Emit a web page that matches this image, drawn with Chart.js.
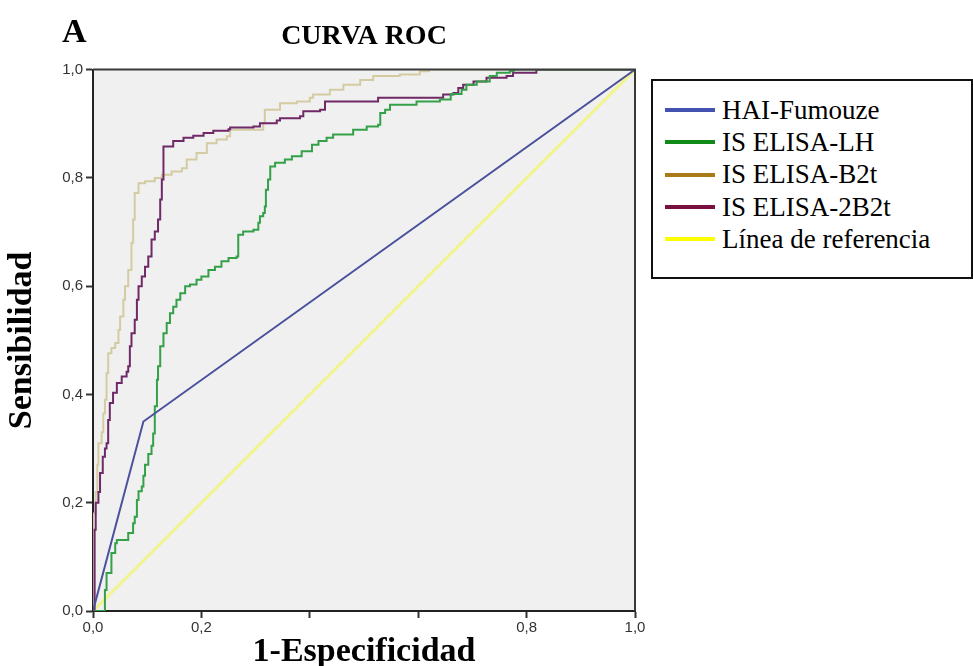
<!DOCTYPE html>
<html lang="es">
<head>
<meta charset="utf-8">
<title>Curva ROC</title>
<script src="https://cdn.jsdelivr.net/npm/chart.js@4.4.1/dist/chart.umd.min.js"></script>
<style>
  html, body { margin: 0; padding: 0; background: #fff; }
  #wrap { position: relative; width: 973px; height: 666px; overflow: hidden; }
  #roc-chart { position: absolute; left: 0; top: 0; }
  #panel-letter {
    position: absolute; left: 62px; top: 14px;
    font: bold 34px/34px "Liberation Serif", serif; color: #000;
  }
  #legend {
    position: absolute; left: 651px; top: 79px; width: 322px; height: 200px;
    box-sizing: border-box; border: 2px solid #111; background: #fff;
    padding-top: 13px;
  }
  .legend-row { display: flex; align-items: center; height: 32.3px; }
  .legend-swatch { width: 50px; height: 4px; margin-left: 12px; margin-right: 7px; }
  .legend-text { font: 27px "Liberation Serif", serif; color: #000; white-space: nowrap; }
</style>
</head>
<body>
<div id="wrap">
  <canvas id="roc-chart" width="973" height="666"></canvas>
  <div id="panel-letter">A</div>
  <div id="legend"></div>
</div>
<script>
// --- Series (1-Especificidad on x, Sensibilidad on y) ---
const seriesNames = ["HAI-Fumouze", "IS ELISA-LH", "IS ELISA-B2t", "IS ELISA-2B2t", "Línea de referencia"];
const lineColors = ["#4b519c", "#34a048", "#d3cca2", "#6f2966", "#f2f48c"];
const legendColors = ["#4352b0", "#118a1a", "#a87a18", "#7a1040", "#ffff00"];

const haiX = [0, 0.093, 1];
const haiY = [0, 0.35, 1];

const lhX = [0, 0.019, 0.022, 0.025, 0.034, 0.041, 0.044, 0.059, 0.065, 0.074, 0.077, 0.081, 0.084, 0.09,
  0.093, 0.096, 0.102, 0.108, 0.111, 0.114, 0.118, 0.12, 0.124, 0.13, 0.136, 0.142, 0.148, 0.154, 0.161,
  0.17, 0.179, 0.191, 0.2, 0.213, 0.225, 0.237, 0.25, 0.265, 0.268, 0.277, 0.296, 0.305, 0.308, 0.314,
  0.317, 0.319, 0.323, 0.327, 0.336, 0.354, 0.367, 0.385, 0.404, 0.416, 0.431, 0.443, 0.48, 0.505, 0.526,
  0.53, 0.539, 0.548, 0.597, 0.64, 0.66, 0.68, 0.689, 0.708, 0.732, 0.745, 0.769, 0.776, 1];
const lhY = [0, 0, 0.039, 0.07, 0.107, 0.125, 0.131, 0.131, 0.144, 0.162, 0.174, 0.205, 0.221, 0.23,
  0.25, 0.27, 0.29, 0.305, 0.328, 0.378, 0.427, 0.452, 0.489, 0.513, 0.532, 0.55, 0.562, 0.575, 0.587,
  0.6, 0.603, 0.612, 0.618, 0.63, 0.636, 0.646, 0.652, 0.655, 0.695, 0.701, 0.704, 0.717, 0.729, 0.735,
  0.747, 0.778, 0.797, 0.821, 0.828, 0.834, 0.84, 0.849, 0.861, 0.868, 0.874, 0.88, 0.889, 0.895, 0.898,
  0.92, 0.926, 0.935, 0.941, 0.945, 0.955, 0.963, 0.972, 0.978, 0.988, 0.994, 0.997, 1, 1];

const b2tX = [0, 0, 0.005, 0.008, 0.01, 0.016, 0.019, 0.022, 0.025, 0.028, 0.034, 0.041, 0.047, 0.05,
  0.056, 0.059, 0.065, 0.071, 0.074, 0.077, 0.084, 0.096, 0.114, 0.127, 0.145, 0.164, 0.173, 0.191, 0.21,
  0.228, 0.247, 0.253, 0.314, 0.317, 0.345, 0.376, 0.4, 0.406, 0.437, 0.462, 0.493, 0.517, 0.566, 0.603,
  0.62, 1];
const b2tY = [0, 0.18, 0.22, 0.27, 0.31, 0.33, 0.365, 0.39, 0.439, 0.476, 0.486, 0.495, 0.519, 0.544,
  0.575, 0.6, 0.63, 0.68, 0.723, 0.772, 0.79, 0.794, 0.8, 0.806, 0.812, 0.818, 0.834, 0.846, 0.864,
  0.871, 0.877, 0.889, 0.901, 0.926, 0.938, 0.941, 0.948, 0.954, 0.963, 0.972, 0.981, 0.988, 0.991, 0.997,
  1, 1];

const b2t2X = [0, 0.003, 0.005, 0.01, 0.013, 0.018, 0.022, 0.025, 0.028, 0.031, 0.037, 0.044, 0.053,
  0.062, 0.065, 0.068, 0.071, 0.077, 0.081, 0.084, 0.09, 0.096, 0.102, 0.108, 0.114, 0.12, 0.124, 0.127,
  0.13, 0.13, 0.148, 0.167, 0.185, 0.204, 0.222, 0.25, 0.253, 0.296, 0.308, 0.339, 0.345, 0.382, 0.388,
  0.419, 0.428, 0.523, 0.526, 0.64, 0.646, 0.665, 0.674, 0.683, 0.702, 0.726, 0.763, 0.775, 0.818, 1];
const b2t2Y = [0, 0.15, 0.2, 0.22, 0.255, 0.285, 0.3, 0.31, 0.353, 0.384, 0.403, 0.421, 0.433,
  0.442, 0.452, 0.489, 0.513, 0.538, 0.575, 0.6, 0.618, 0.636, 0.655, 0.686, 0.701, 0.723, 0.76, 0.797,
  0.828, 0.858, 0.868, 0.874, 0.878, 0.883, 0.887, 0.89, 0.893, 0.895, 0.901, 0.906, 0.91, 0.914, 0.923,
  0.926, 0.941, 0.941, 0.948, 0.948, 0.954, 0.957, 0.966, 0.972, 0.978, 0.985, 0.988, 0.994, 1, 1];

const refX = [0, 1];
const refY = [0, 1];

const xTickLabels = ["0,0", "0,2", "", "", "0,8", "1,0"];
const yTickLabels = ["0,0", "0,2", "0,4", "0,6", "0,8", "1,0"];

const toPoints = (xs, ys) => xs.map((x, i) => ({ x: x, y: ys[i] }));

// grey plot background, then the dark top/right frame over the curves
const plotFrame = {
  id: "plotFrame",
  beforeDraw(chart) {
    const { ctx, chartArea: a } = chart;
    ctx.save();
    ctx.fillStyle = "#f0f0f0";
    ctx.fillRect(a.left, a.top, a.right - a.left, a.bottom - a.top);
    ctx.restore();
  },
  afterDatasetsDraw(chart) {
    const { ctx, chartArea: a } = chart;
    ctx.save();
    ctx.strokeStyle = "#3a3a3a";
    ctx.lineWidth = 2;
    ctx.beginPath();
    ctx.moveTo(a.left, a.top);
    ctx.lineTo(a.right, a.top);
    ctx.lineTo(a.right, a.bottom);
    ctx.stroke();
    ctx.restore();
  },
};

const datasets = [
  { label: seriesNames[0], data: toPoints(haiX, haiY), borderColor: lineColors[0], borderWidth: 2, order: 1 },
  { label: seriesNames[1], data: toPoints(lhX, lhY), borderColor: lineColors[1], borderWidth: 2, stepped: true, order: 2 },
  { label: seriesNames[2], data: toPoints(b2tX, b2tY), borderColor: lineColors[2], borderWidth: 2, stepped: true, order: 4 },
  { label: seriesNames[3], data: toPoints(b2t2X, b2t2Y), borderColor: lineColors[3], borderWidth: 2, stepped: true, order: 3 },
  { label: seriesNames[4], data: toPoints(refX, refY), borderColor: lineColors[4], borderWidth: 3, order: 5 },
].map((d) => Object.assign({ showLine: true, pointRadius: 0, fill: false, tension: 0 }, d));

const tickFont = { family: "'Liberation Sans', Arial, sans-serif", size: 15, weight: "normal" };
const titleFont = { family: "'Liberation Serif', serif", size: 34, weight: "bold", lineHeight: 1 };

new Chart(document.getElementById("roc-chart"), {
  type: "scatter",
  data: { datasets: datasets },
  plugins: [plotFrame],
  options: {
    responsive: false,
    animation: false,
    events: [],
    layout: { padding: { left: 0, right: 338, top: 0, bottom: 0 } },
    plugins: {
      legend: { display: false },
      tooltip: { enabled: false },
      title: {
        display: true,
        text: "CURVA ROC",
        fullSize: false,
        color: "#000",
        font: { family: "'Liberation Serif', serif", size: 28, weight: "bold", lineHeight: 1.2 },
        padding: { top: 20, bottom: 16 },
      },
    },
    scales: {
      x: {
        type: "linear",
        min: 0,
        max: 1,
        afterFit: (scale) => { scale.height = 55; },
        ticks: {
          stepSize: 0.2,
          color: "#333",
          font: tickFont,
          padding: 1,
          maxRotation: 0,
          callback: (v, i) => xTickLabels[i],
        },
        grid: { drawOnChartArea: false, drawTicks: true, tickLength: 7, tickColor: "#333", tickWidth: 2 },
        border: { color: "#222", width: 2 },
        title: { display: true, text: "1-Especificidad", color: "#000", font: titleFont, padding: { top: 0, bottom: -3 } },
      },
      y: {
        type: "linear",
        min: 0,
        max: 1,
        afterFit: (scale) => { scale.width = 93; },
        ticks: {
          stepSize: 0.2,
          color: "#333",
          font: tickFont,
          padding: 3,
          callback: (v, i) => yTickLabels[i],
        },
        grid: { drawOnChartArea: false, drawTicks: true, tickLength: 7, tickColor: "#333", tickWidth: 2 },
        border: { color: "#222", width: 2 },
        title: { display: true, text: "Sensibilidad", color: "#000", font: titleFont, padding: { top: 5, bottom: 0 } },
      },
    },
  },
});

// legend box on the right, built from the same series list
const legendBox = document.getElementById("legend");
seriesNames.forEach((name, i) => {
  const row = document.createElement("div");
  row.className = "legend-row";
  const swatch = document.createElement("span");
  swatch.className = "legend-swatch";
  swatch.style.background = legendColors[i];
  const text = document.createElement("span");
  text.className = "legend-text";
  text.textContent = name;
  row.appendChild(swatch);
  row.appendChild(text);
  legendBox.appendChild(row);
});
</script>
</body>
</html>
